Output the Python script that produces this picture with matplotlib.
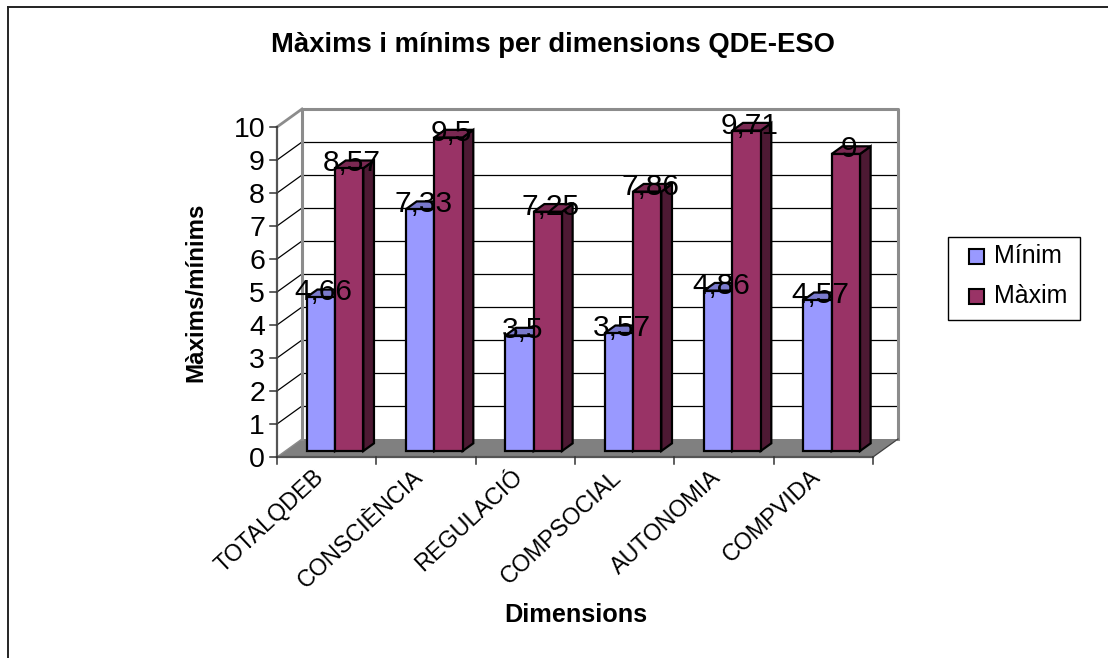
import matplotlib
matplotlib.use("Agg")
import matplotlib.pyplot as plt
from matplotlib.lines import Line2D
from matplotlib.patches import Polygon, Rectangle

plt.rcParams['font.family'] = ['Liberation Sans', 'DejaVu Sans']

categories = ['TOTALQDEB', 'CONSCIÈNCIA', 'REGULACIÓ', 'COMPSOCIAL', 'AUTONOMIA', 'COMPVIDA']
minim = [4.66, 7.33, 3.5, 3.57, 4.86, 4.57]
maxim = [8.57, 9.5, 7.25, 7.86, 9.71, 9.0]
y_ticks = list(range(0, 11))

BLUE, BLUE_TOP = '#9999FF', '#7A7ACC'
MAROON, MAROON_TOP, MAROON_SIDE = '#993366', '#7A2952', '#4D1933'

W, H, DPI = 1108, 658, 100
fig = plt.figure(figsize=(W / DPI, H / DPI), dpi=DPI, facecolor='white')

# front plane of the pseudo-3D box
L, R, B, T = 277, 873, 457, 127
ax = fig.add_axes([L / W, 1 - B / H, (R - L) / W, (B - T) / H])
ax.set_xlim(0, len(categories))
ax.set_ylim(0, 10)
ax.axis('off')

PX = len(categories) / (R - L)      # data units per pixel, horizontally
PY = 10 / (B - T)                   # data units per pixel, vertically
DEPTH_X, DEPTH_Y = 25 * PX, 18 * PY


def at(x, v, d=0.0):
    """Project a data point to depth d (0 = front plane, 1 = back wall)."""
    return (x + d * DEPTH_X, v + d * DEPTH_Y)


def poly(points, **kw):
    kw.setdefault('clip_on', False)
    ax.add_patch(Polygon(points, closed=True, **kw))


n = len(categories)
GREY = '#8C8C8C'

# floor and walls
poly([at(0, 0), at(n, 0), at(n, 0, 1), at(0, 0, 1)], fc='#808080', ec='none', zorder=1)
poly([at(0, 0, 1), at(n, 0, 1), at(n, 10, 1), at(0, 10, 1)], fc='white', ec='none', zorder=1)

# gridlines: along the back wall, then down the left wall
for v in y_ticks[1:-1]:
    ax.plot(*zip(at(0, v, 1), at(n, v, 1)), color='black', lw=0.9, zorder=2, clip_on=False)
for v in y_ticks[1:]:
    ax.plot(*zip(at(0, v), at(0, v, 1)), color='black' if v < 10 else GREY,
            lw=0.9 if v < 10 else 2, zorder=2, clip_on=False)
ax.plot(*zip(at(0, 0), at(0, 0, 1)), color=GREY, lw=1, zorder=2, clip_on=False)
ax.plot(*zip(at(0, 0, 1), at(0, 10, 1), at(n, 10, 1), at(n, 0, 1)), color=GREY, lw=2.2,
        zorder=2, clip_on=False)
ax.plot(*zip(at(n, 0), at(n, 0, 1)), color='#404040', lw=0.9, zorder=2, clip_on=False)

# front axes and ticks
ax.plot([0, 0], [0, 10], color='#555555', lw=1.6, zorder=3, clip_on=False)
ax.plot([0, n], [0, 0], color='#555555', lw=1.6, zorder=3, clip_on=False)
for v in y_ticks:
    ax.plot([-7 * PX, 0], [v, v], color='#333333', lw=1.1, zorder=3, clip_on=False)
    ax.text(-12 * PX, v, str(v), ha='right', va='center_baseline', fontsize=20.5, color='black')
for i in range(n + 1):
    ax.plot([i, i], [0, -7 * PY], color='#333333', lw=1.1, zorder=3, clip_on=False)

# bars
BAR_W = 0.285
D_FRONT, D_BACK = 1 / 3, 0.76
EDGE = dict(ec='black', lw=1.6, joinstyle='miter', zorder=4)


def bar(x0, value, face, top, side):
    x1 = x0 + BAR_W
    poly([at(x1, 0, D_FRONT), at(x1, 0, D_BACK), at(x1, value, D_BACK), at(x1, value, D_FRONT)],
         fc=side, **EDGE)
    poly([at(x0, value, D_FRONT), at(x1, value, D_FRONT), at(x1, value, D_BACK), at(x0, value, D_BACK)],
         fc=top, **EDGE)
    poly([at(x0, 0, D_FRONT), at(x1, 0, D_FRONT), at(x1, value, D_FRONT), at(x0, value, D_FRONT)],
         fc=face, **EDGE)


for i in range(n):
    bar(i + 0.5 - BAR_W, minim[i], BLUE, BLUE_TOP, BLUE_TOP)
    bar(i + 0.5, maxim[i], MAROON, MAROON_TOP, MAROON_SIDE)

# value labels, comma as decimal separator
for i in range(n):
    for x0, value in ((i + 0.5 - BAR_W, minim[i]), (i + 0.5, maxim[i])):
        cx, cy = at(x0 + BAR_W / 2, value, D_FRONT)
        ax.text(cx + 3 * PX, cy - 3 * PY, f'{value:g}'.replace('.', ','), ha='center',
                va='baseline', fontsize=21.5, color='black', zorder=6, clip_on=False)

# category labels
for i, name in enumerate(categories):
    ax.annotate(name, xy=(i + 0.5, 0), xytext=(-10, -6), textcoords='offset points',
                rotation=43, ha='right', va='top', rotation_mode='anchor', fontsize=16.8)

# axis titles and chart title
fig.text(553 / W, 1 - 45 / H, 'Màxims i mínims per dimensions QDE-ESO', ha='center', va='center',
         fontsize=19.7, fontweight='bold')
fig.text(196 / W, 1 - 292 / H, 'Màxims/mínims', ha='center', va='center', rotation=90,
         fontsize=17.4, fontweight='bold')
fig.text(576 / W, 1 - 615 / H, 'Dimensions', ha='center', va='center', fontsize=18.2,
         fontweight='bold')

# outer frame: only the top and left edges fall inside the canvas
fig.add_artist(Line2D([8 / W, 8 / W], [0, 1 - 7 / H], transform=fig.transFigure, color='black', lw=1.2))
fig.add_artist(Line2D([8 / W, 1], [1 - 7 / H, 1 - 7 / H], transform=fig.transFigure, color='#222222', lw=1.4))

# legend box
fig.add_artist(Rectangle((948 / W, 1 - 320 / H), 132 / W, 83 / H, transform=fig.transFigure,
                         fc='white', ec='black', lw=1))
for y, color, label in ((256, BLUE, 'Mínim'), (296, MAROON, 'Màxim')):
    fig.add_artist(Rectangle((969 / W, 1 - (y + 8) / H), 15 / W, 15 / H, transform=fig.transFigure,
                             fc=color, ec='black', lw=1.5))
    fig.text(994 / W, 1 - y / H, label, ha='left', va='center', fontsize=18)

fig.savefig('out.png', dpi=DPI)
